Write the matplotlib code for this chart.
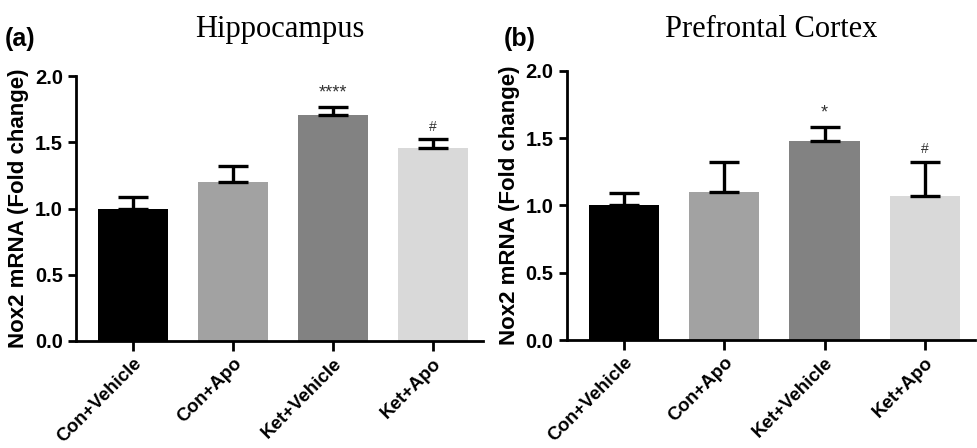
import numpy as np
import matplotlib
matplotlib.use("Agg")
import matplotlib.pyplot as plt

plt.rcParams["font.family"] = ["Liberation Sans", "DejaVu Sans"]

# ---------------------------
# Data
# ---------------------------
groups = ["Con+Vehicle", "Con+Apo", "Ket+Vehicle", "Ket+Apo"]
bar_colors = ["#000000", "#a2a2a2", "#828282", "#d9d9d9"]

hippo_mean = [1.00, 1.20, 1.71, 1.46]
hippo_err = [0.09, 0.12, 0.06, 0.065]
hippo_marks = ["", "", "****", "#"]

pfc_mean = [1.00, 1.10, 1.48, 1.07]
pfc_err = [0.095, 0.225, 0.10, 0.255]
pfc_marks = ["", "", "*", "#"]

panels = [
    ("(a)", "Hippocampus", hippo_mean, hippo_err, hippo_marks, 28),
    ("(b)", "Prefrontal Cortex", pfc_mean, pfc_err, pfc_marks, 24),
]

fig = plt.figure(figsize=(9.77, 4.48), dpi=100)
rects = [[0.078, 0.239, 0.416, 0.591], [0.580, 0.241, 0.418, 0.601]]
tag_pos = [(0.005, 0.913), (0.516, 0.913)]

for (tag, title, mean, err, marks, tpad), rect, tp in zip(panels, rects, tag_pos):
    ax = fig.add_axes(rect)
    x = np.arange(len(groups))
    ax.bar(x, mean, width=0.7, color=bar_colors, edgecolor="none", zorder=2)
    ax.errorbar(x, mean, yerr=[np.zeros(len(err)), err], fmt="none",
                ecolor="black", elinewidth=2.4, capsize=11, capthick=2.4,
                zorder=3)
    for xi, m, e, s in zip(x, mean, err, marks):
        if s:
            ax.text(xi, m + e + 0.04, s, ha="center", va="bottom",
                    fontsize=13 if s != "#" else 10, color="#333333")

    ax.set_xlim(-0.57, 3.5)
    ax.set_ylim(0, 2.0)
    ax.set_yticks([0.0, 0.5, 1.0, 1.5, 2.0])
    ax.set_yticklabels([f"{v:.1f}" for v in [0.0, 0.5, 1.0, 1.5, 2.0]],
                       fontsize=14.5, fontweight="bold")
    ax.set_xticks(x)
    ax.set_xticklabels(groups, rotation=45, ha="right",
                       rotation_mode="anchor", fontsize=13.5,
                       fontweight="bold")
    ax.set_ylabel("Nox2 mRNA (Fold change)", fontsize=16,
                  fontweight="bold", labelpad=4)
    ax.spines["top"].set_visible(False)
    ax.spines["right"].set_visible(False)
    ax.spines["left"].set_linewidth(2)
    ax.spines["bottom"].set_linewidth(2)
    ax.tick_params(direction="out", length=6, width=2)
    ax.tick_params(axis="x", length=7, pad=3)

    ax.set_title(title, fontsize=22, family="Liberation Serif", pad=tpad)
    fig.text(tp[0], tp[1], tag, fontsize=18, fontweight="bold",
             ha="left", va="center")

fig.savefig("out.png", dpi=100)
